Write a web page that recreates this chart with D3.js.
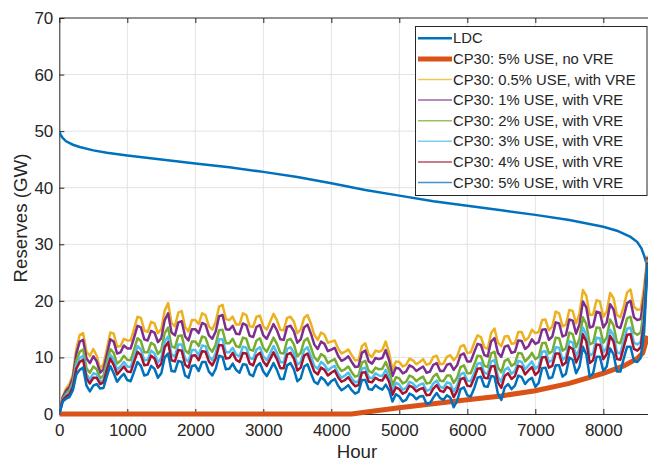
<!DOCTYPE html>
<html><head><meta charset="utf-8">
<script src="https://cdn.jsdelivr.net/npm/d3@7"></script>
<style>body{margin:0;background:#fff}svg{display:block}text{font-family:"Liberation Sans",Arial,sans-serif;fill:#262626}</style>
</head><body><svg id="c" width="648" height="462"></svg>
<script>
const hours=[0,50,100,150,200,250,300,350,400,450,500,550,600,650,700,750,800,850,900,950,
1000,1050,1100,1150,1200,1250,1300,1350,1400,1450,1500,1550,1600,1650,1700,1750,1800,1850,1900,1950,
2000,2050,2100,2150,2200,2250,2300,2350,2400,2450,2500,2550,2600,2650,2700,2750,2800,2850,2900,2950,
3000,3050,3100,3150,3200,3250,3300,3350,3400,3450,3500,3550,3600,3650,3700,3750,3800,3850,3900,3950,
4000,4050,4100,4150,4200,4250,4300,4350,4400,4450,4500,4550,4600,4650,4700,4750,4800,4850,4900,4950,
5000,5050,5100,5150,5200,5250,5300,5350,5400,5450,5500,5550,5600,5650,5700,5750,5800,5850,5900,5950,
6000,6050,6100,6150,6200,6250,6300,6350,6400,6450,6500,6550,6600,6650,6700,6750,6800,6850,6900,6950,
7000,7050,7100,7150,7200,7250,7300,7350,7400,7450,7500,7550,7600,7650,7700,7750,7800,7850,7900,7950,
8000,8050,8100,8150,8200,8250,8300,8350,8400,8450,8500,8550,8600,8650];
const use05=[0,3.1,4.5,5.3,7.0,11.5,14.0,14.3,11.0,10.3,11.5,10.3,8.0,8.8,11.5,14.4,14.2,11.9,12.0,13.3,
13.0,13.0,15.0,17.2,17.0,14.8,14.5,16.3,16.0,14.3,15.0,18.3,19.6,16.1,15.5,17.9,18.2,15.4,14.6,16.6,
16.6,15.9,17.8,17.5,15.5,14.9,16.3,19.0,19.3,16.8,16.6,17.2,15.8,15.8,17.8,17.5,15.5,15.4,17.2,17.4,
15.5,14.9,16.3,17.7,16.6,14.9,14.8,17.0,17.2,16.3,14.3,14.9,17.0,17.5,16.0,14.0,13.1,14.4,14.0,12.6,
12.8,13.0,11.6,10.7,11.0,11.4,10.4,9.5,9.5,12.0,12.5,10.5,10.1,11.2,11.0,11.3,12.8,10.8,7.8,9.3,
9.2,8.4,8.7,9.8,9.5,8.8,9.2,9.7,8.7,8.9,10.1,10.3,8.8,8.9,10.1,10.4,9.5,10.2,11.9,12.2,
10.8,10.9,12.5,13.9,13.6,11.8,11.5,14.3,15.1,12.6,12.0,13.7,13.8,12.4,12.5,14.5,14.5,13.0,13.5,14.9,
14.3,14.5,16.6,16.7,14.8,15.5,18.1,17.8,15.5,15.8,18.4,18.2,16.0,17.8,21.9,20.9,17.5,17.6,20.1,19.9,
17.2,18.1,21.4,20.5,17.5,17.1,19.0,21.5,22.0,19.0,18.4,18.5,22.5,28.0];
const use1=[0,2.9,4.1,4.8,6.4,10.6,12.8,13.1,9.8,9.0,10.2,9.3,7.3,7.9,10.5,13.2,12.8,10.7,10.9,12.1,
11.6,11.6,13.5,15.6,15.3,13.2,13.0,14.7,14.4,12.7,13.4,16.6,17.8,14.4,13.9,16.2,16.4,13.7,13.0,15.0,
15.0,14.3,16.1,15.8,13.9,13.3,14.6,17.3,17.5,15.0,14.9,15.6,14.2,14.1,16.0,15.7,13.8,13.6,15.4,15.7,
13.9,13.3,14.6,15.9,14.8,13.2,13.1,15.4,15.6,14.6,12.6,13.2,15.3,15.8,14.2,12.3,11.5,12.8,12.4,11.1,
11.4,11.7,10.3,9.4,9.7,10.2,9.2,8.3,8.4,10.8,11.2,9.3,8.9,9.9,9.7,9.9,11.3,9.5,6.7,8.2,
8.0,7.2,7.5,8.6,8.3,7.6,8.0,8.4,7.3,7.5,8.7,9.0,7.6,7.6,8.7,8.9,7.8,8.6,10.4,10.7,
9.3,9.3,10.9,12.4,12.2,10.4,10.2,12.8,13.4,10.8,10.1,11.9,12.1,10.8,11.0,13.0,12.9,11.5,12.0,13.2,
12.4,12.7,14.9,15.0,13.1,13.7,16.2,16.0,13.7,14.0,16.7,16.5,14.2,15.9,19.9,18.8,15.3,15.5,18.1,17.9,
15.3,16.2,19.4,18.5,15.5,15.2,17.2,19.6,20.0,17.1,16.6,16.8,20.9,27.7];
const use2=[0,2.6,3.6,4.2,5.7,9.4,11.0,11.4,8.1,7.3,8.4,7.9,6.3,6.8,9.2,11.5,10.8,8.9,9.4,10.3,
9.6,9.5,11.4,13.4,12.9,10.9,10.9,12.6,12.2,10.6,11.3,14.3,15.3,12.0,11.7,13.8,13.9,11.3,10.7,12.8,
12.8,12.0,13.7,13.5,11.7,11.0,12.3,14.8,14.9,12.5,12.5,13.3,12.0,11.8,13.5,13.3,11.4,11.2,13.0,13.4,
11.7,11.0,12.2,13.5,12.4,10.8,10.7,13.0,13.3,12.3,10.2,10.8,12.9,13.4,11.8,10.0,9.4,10.6,10.2,9.0,
9.4,9.7,8.4,7.6,7.9,8.4,7.4,6.6,6.8,9.1,9.4,7.6,7.3,8.2,7.9,8.0,9.2,7.7,5.1,6.5,
6.3,5.4,5.7,6.8,6.5,5.8,6.3,6.6,5.4,5.5,6.6,7.1,5.9,5.8,6.8,6.8,5.5,6.4,8.3,8.6,
7.2,7.2,8.7,10.3,10.2,8.5,8.3,10.7,11.0,8.2,7.4,9.4,9.7,8.5,8.9,10.8,10.7,9.3,9.9,10.8,
9.7,10.1,12.5,12.6,10.7,11.1,13.5,13.4,11.2,11.6,14.4,14.1,11.8,13.3,17.1,15.9,12.3,12.6,15.3,15.2,
12.6,13.5,16.7,15.7,12.7,12.5,14.6,16.9,17.2,14.4,14.0,14.4,18.7,27.3];
const use3=[0,2.5,3.3,3.8,5.2,8.6,9.9,10.3,7.0,6.1,7.2,7.0,5.7,6.0,8.3,10.5,9.6,7.8,8.4,9.2,
8.4,8.3,10.1,12.0,11.4,9.5,9.6,11.2,10.7,9.1,9.9,12.8,13.7,10.5,10.2,12.3,12.3,9.8,9.2,11.3,
11.3,10.4,12.1,12.0,10.2,9.5,10.8,13.2,13.2,10.9,10.9,11.7,10.5,10.2,11.9,11.7,9.9,9.7,11.4,11.8,
10.2,9.5,10.7,12.0,10.8,9.2,9.1,11.5,11.8,10.8,8.7,9.2,11.3,11.8,10.2,8.5,8.0,9.2,8.7,7.7,
8.2,8.5,7.2,6.4,6.8,7.3,6.3,5.6,5.8,8.0,8.2,6.5,6.3,7.2,6.8,6.7,7.8,6.5,4.1,5.5,
5.2,4.3,4.6,5.7,5.4,4.7,5.2,5.4,4.1,4.3,5.4,5.9,4.8,4.6,5.6,5.4,4.0,5.0,7.0,7.3,
5.9,5.8,7.2,8.9,9.0,7.3,7.1,9.3,9.5,6.6,5.7,7.8,8.2,7.1,7.6,9.4,9.2,7.9,8.6,9.3,
8.0,8.5,11.0,11.1,9.2,9.5,11.8,11.7,9.6,10.1,12.9,12.6,10.2,11.6,15.3,14.0,10.3,10.7,13.5,13.4,
10.9,11.7,14.9,13.9,10.9,10.7,12.9,15.1,15.3,12.6,12.3,12.8,17.2,27.0];
const use4=[0,2.4,3.1,3.5,4.8,8.0,9.2,9.6,6.3,5.4,6.4,6.4,5.3,5.6,7.8,9.8,8.7,7.0,7.7,8.4,
7.5,7.4,9.2,11.0,10.4,8.6,8.7,10.3,9.8,8.2,8.9,11.8,12.7,9.5,9.3,11.3,11.2,8.7,8.2,10.3,
10.4,9.5,11.1,11.0,9.3,8.6,9.8,12.2,12.1,9.8,9.9,10.8,9.6,9.2,10.8,10.7,8.9,8.6,10.3,10.8,
9.3,8.5,9.7,10.9,9.7,8.1,8.1,10.5,10.8,9.8,7.7,8.2,10.3,10.7,9.1,7.5,7.0,8.2,7.8,6.8,
7.3,7.7,6.5,5.7,6.0,6.5,5.6,4.9,5.1,7.3,7.4,5.7,5.6,6.4,6.0,5.9,6.9,5.7,3.4,4.7,
4.4,3.6,3.9,5.0,4.7,4.0,4.4,4.6,3.3,3.4,4.5,5.1,4.1,3.9,4.8,4.5,3.0,4.1,6.1,6.4,
5.0,4.9,6.3,8.0,8.1,6.4,6.3,8.4,8.5,5.6,4.6,6.7,7.2,6.2,6.7,8.5,8.3,7.0,7.7,8.3,
6.9,7.5,10.0,10.1,8.2,8.5,10.7,10.7,8.6,9.1,11.9,11.5,9.1,10.4,14.1,12.8,9.0,9.5,12.3,12.2,
9.7,10.6,13.8,12.8,9.7,9.6,11.8,14.0,14.1,11.5,11.2,11.8,16.3,26.8];
const use5=[0,2.2,2.7,3.0,4.2,7.0,7.8,8.2,5.0,4.0,5.0,5.3,4.5,4.6,6.7,8.5,7.2,5.7,6.5,7.1,
6.0,5.8,7.5,9.2,8.5,6.8,7.0,8.5,8.0,6.4,7.2,10.0,10.7,7.6,7.5,9.4,9.2,6.8,6.4,8.5,
8.6,7.6,9.2,9.2,7.5,6.8,8.0,10.3,10.1,7.9,8.0,8.9,7.8,7.3,8.8,8.7,7.0,6.7,8.4,9.0,
7.5,6.7,7.8,9.0,7.8,6.2,6.2,8.6,9.0,7.9,5.8,6.3,8.4,8.8,7.2,5.7,5.3,6.5,6.0,5.1,
5.8,6.2,5.0,4.2,4.6,5.1,4.2,3.6,3.9,6.0,6.0,4.4,4.3,5.1,4.6,4.3,5.2,4.2,2.2,3.5,
3.1,2.2,2.5,3.6,3.3,2.6,3.1,3.2,1.8,1.9,2.9,3.7,2.8,2.5,3.3,2.9,1.2,2.3,4.4,4.7,
3.3,3.1,4.5,6.4,6.6,4.9,4.8,6.7,6.6,3.6,2.5,4.7,5.3,4.4,5.0,6.8,6.5,5.3,6.0,6.4,
4.8,5.5,8.1,8.2,6.3,6.5,8.6,8.6,6.6,7.1,10.0,9.6,7.2,8.4,11.9,10.5,6.6,7.2,10.1,10.1,
7.6,8.4,11.6,10.6,7.5,7.5,9.8,11.9,11.9,9.4,9.2,9.9,14.5,26.5];
const ldcHours=[0,20,50,100,200,300,500,700,1000,1500,2000,2500,3000,3500,4000,4500,5000,5500,6000,6500,7000,7500,8000,8200,8400,8500,8560,8600,8650];
const ldcValues=[50.0,49.3,48.8,48.2,47.6,47.2,46.6,46.2,45.7,45.0,44.3,43.6,42.8,41.9,40.8,39.6,38.6,37.6,36.8,36.0,35.2,34.3,33.1,32.4,31.3,30.4,29.3,28.0,26.0];
const noVreHours=[0,4300,4600,5000,5500,6000,6500,7000,7500,8000,8300,8500,8580,8620,8650];
const noVreValues=[0,0,0.5,1.1,1.8,2.5,3.2,4.1,5.4,7.2,8.5,9.8,10.8,12.5,13.8];
const legendLabels=["LDC","CP30: 5% USE, no VRE","CP30: 0.5% USE, with VRE","CP30: 1% USE, with VRE","CP30: 2% USE, with VRE","CP30: 3% USE, with VRE","CP30: 4% USE, with VRE","CP30: 5% USE, with VRE"];
const colors=["#0072BD","#D95319","#EDB120","#7E2F8E","#77AC30","#4DBEEE","#A2142F","#0072BD"];
const xTicks=[0,1000,2000,3000,4000,5000,6000,7000,8000];
const yTicks=[0,10,20,30,40,50,60,70];

const svg=d3.select("#c");
const x=d3.scaleLinear().domain([0,8760]).range([59.3,655]);
const y=d3.scaleLinear().domain([0,70]).range([414,18]);
const ax="#262626";
svg.append("g").selectAll("line").data(xTicks.slice(1)).join("line")
 .attr("x1",d=>x(d)).attr("x2",d=>x(d)).attr("y1",18).attr("y2",414).attr("stroke","#e3e3e3").attr("stroke-width",1);
svg.append("g").selectAll("line").data(yTicks.slice(1,-1)).join("line")
 .attr("y1",d=>y(d)).attr("y2",d=>y(d)).attr("x1",59.3).attr("x2",655).attr("stroke","#e3e3e3").attr("stroke-width",1);
const fs="17px";
const gx=svg.append("g").attr("transform","translate(0,414)").call(d3.axisBottom(x).tickValues(xTicks).tickFormat(d3.format("d")).tickSize(-5).tickPadding(10));
const gy=svg.append("g").attr("transform","translate(59.3,0)").call(d3.axisLeft(y).tickValues(yTicks).tickSize(-5).tickPadding(6));
const gt=svg.append("g").attr("transform","translate(0,18)").call(d3.axisTop(x).tickValues(xTicks).tickFormat("").tickSize(-5));
[gx,gy,gt].forEach(g=>{g.selectAll("path,line").attr("stroke",ax).attr("stroke-width",1);g.selectAll("text").style("font-size",fs).attr("fill",ax);});
gx.select(".domain").attr("d","M59.3,0.5H655");
gt.select(".domain").attr("d","M59.3,0H655");
svg.append("defs").append("clipPath").attr("id","cp").append("rect").attr("x",59.3).attr("y",10).attr("width",600).attr("height",412);
const gd=svg.append("g").attr("clip-path","url(#cp)");
const line=d3.line().x(d=>x(d[0])).y(d=>y(d[1]));
const zip=(hs,vs)=>hs.map((h,i)=>[h,vs[i]]);
gd.append("path").datum(zip(ldcHours,ldcValues)).attr("d",line).attr("fill","none").attr("stroke",colors[0]).attr("stroke-width",2.5);
gd.append("path").datum(zip(noVreHours,noVreValues)).attr("d",line).attr("fill","none").attr("stroke",colors[1]).attr("stroke-width",5);
[use05,use1,use2,use3,use4,use5].forEach((s,i)=>{
 gd.append("path").datum(zip(hours,s)).attr("d",line).attr("fill","none").attr("stroke",colors[i+2]).attr("stroke-width",2.5).attr("stroke-linejoin","round");
});
svg.append("text").attr("transform","translate(27,218) rotate(-90)").attr("text-anchor","middle").style("font-size","18.7px").text("Reserves (GW)");
svg.append("text").attr("x",357).attr("y",458).attr("text-anchor","middle").style("font-size","18.7px").text("Hour");
const lg=svg.append("g");
lg.append("rect").attr("x",415.5).attr("y",26.5).attr("width",231.5).attr("height",169).attr("fill","#fff").attr("stroke",ax).attr("stroke-width",1);
const widths=[2.5,5,1.5,1.5,1.5,1.5,1.5,1.5];
legendLabels.forEach((t,i)=>{
 const cy=38.3+i*20.6;
 lg.append("line").attr("x1",418).attr("x2",452).attr("y1",cy).attr("y2",cy).attr("stroke",colors[i]).attr("stroke-width",widths[i]).attr("stroke-opacity",i>1?0.75:1);
 lg.append("text").attr("x",453).attr("y",cy).attr("dy","0.35em").style("font-size","14.8px").text(t);
});
</script></body></html>
